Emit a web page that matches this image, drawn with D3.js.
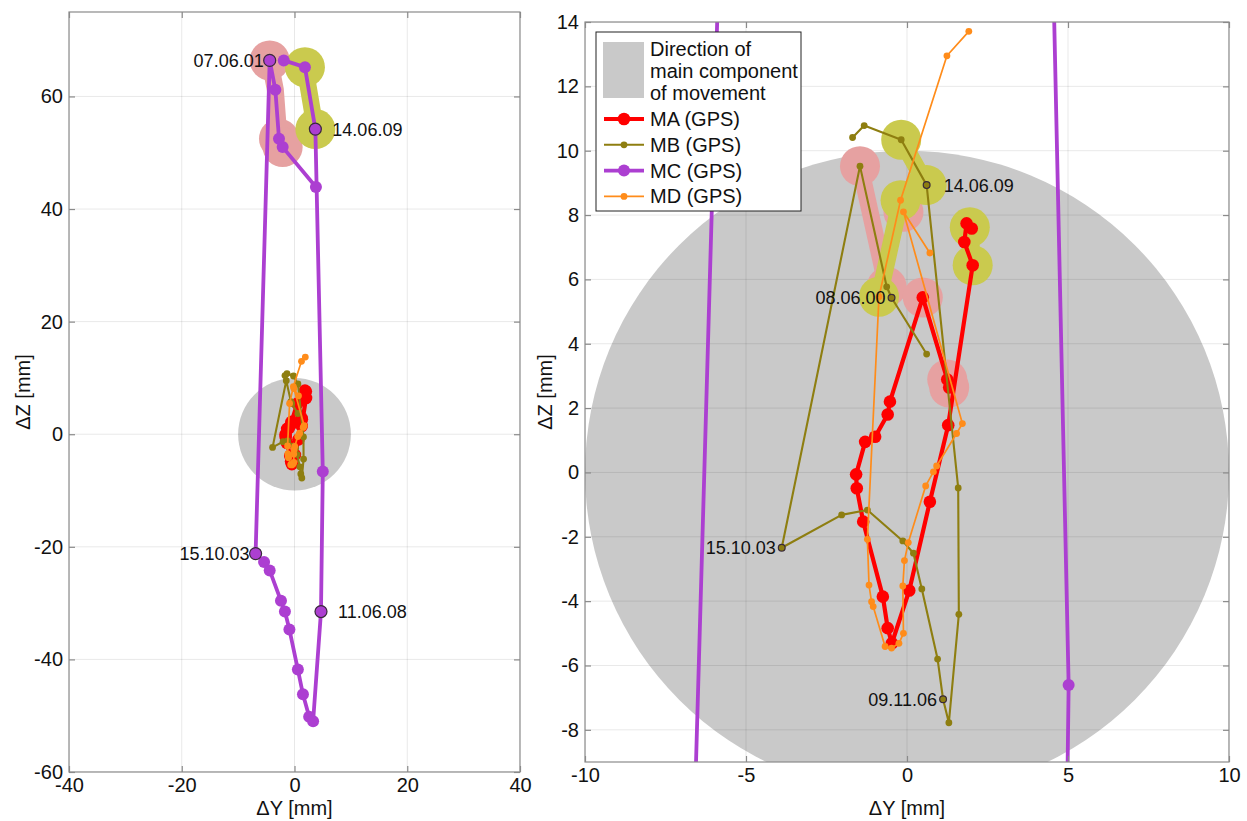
<!DOCTYPE html>
<html><head><meta charset="utf-8">
<script src="https://cdn.jsdelivr.net/npm/d3@7"></script>
<style>
body{margin:0;background:#fff;}
svg{display:block;}
text{font-family:"Liberation Sans",Arial,Helvetica,sans-serif;}
</style>
</head><body>
<svg id="c" width="1247" height="821"></svg>
<script>
// ---------------- data (ΔY, ΔZ in mm) ----------------
const MA = [[1.31,2.64],[1.25,2.89],[0.49,5.44],[-0.53,2.20],[-0.60,1.80],[-0.99,1.11],[-1.30,0.95],
  [-1.58,-0.06],[-1.56,-0.49],[-1.36,-1.53],[-0.75,-3.86],[-0.60,-4.84],[-0.47,-5.31],[0.07,-3.67],
  [0.71,-0.91],[1.28,1.47],[2.04,6.44],[1.78,7.16],[1.85,7.74],[2.01,7.58]];
const MB = [[0.61,3.68],[-0.48,5.43],[-0.63,5.77],[-1.46,9.52],[-3.89,-2.34],[-2.03,-1.32],[-1.23,-1.17],
  [-0.13,-2.13],[0.20,-2.51],[0.46,-3.62],[0.95,-5.80],[1.12,-7.05],[1.30,-7.78],[1.61,-4.41],
  [1.59,-0.48],[0.61,8.93],[-0.18,10.34],[-1.33,10.78],[-1.69,10.41]];
const MC = [[3.8,43.9],[-2.1,51.0],[-2.75,52.5],[-3.4,61.2],[-4.4,66.4],[-6.9,-21.2],[-5.4,-22.7],
  [-4.4,-24.2],[-2.4,-29.6],[-1.7,-31.5],[-0.9,-34.7],[0.6,-41.8],[1.5,-46.2],[2.6,-50.2],[3.3,-51.0],
  [4.7,-31.5],[5.02,-6.61],[3.7,54.2],[1.85,65.2],[-1.9,66.4]];
const MD = [[0.71,6.82],[-0.11,8.10],[1.72,1.52],[1.54,1.21],[0.92,0.20],[0.82,0.02],[0.58,-0.42],
  [0.04,-2.18],[-0.08,-2.74],[-0.13,-3.53],[-0.11,-5.00],[-0.25,-5.31],[-0.48,-5.46],[-0.68,-5.41],
  [-1.05,-4.17],[-1.10,-4.02],[-1.18,-3.50],[-1.23,-2.08],[-0.87,5.46],[-0.20,8.46],[1.24,12.95],[1.92,13.71]];

// main component circle: [centerY, centerZ, radius]
const mainComponent = [0, 0, 10];

// date labels: [text, ΔY, ΔZ, side]
const labelsLeft = [["07.06.01",-4.4,66.4,"end"],["14.06.09",3.7,54.2,"start"],
  ["15.10.03",-6.9,-21.2,"end"],["11.06.08",4.7,-31.5,"start"]];
const labelsRight = [["14.06.09",0.61,8.93,"start"],["08.06.00",-0.48,5.43,"end"],
  ["15.10.03",-3.89,-2.34,"end"],["09.11.06",1.12,-7.05,"end"]];

// highlighted periods
const pinkBandsLeft = [[[-4.4,66.4],[-3.4,61.2],[-2.75,52.5],[-2.1,51.0]]];
const pinkDotsLeft = [[-4.4,66.4],[-2.75,52.5],[-2.1,51.0]];
const yellowBandsLeft = [[[1.85,65.2],[3.7,54.2]]];
const yellowDotsLeft = [[1.85,65.2],[3.7,54.2]];
const pinkBandsRight = [[[-1.46,9.52],[-0.63,5.77]],[[1.25,2.89],[1.31,2.64]]];
const pinkDotsRight = [[-1.46,9.52],[-0.63,5.77],[0.49,5.44],[1.25,2.89],[1.31,2.64],[-0.11,8.10]];
const yellowBandsRight = [[[-0.18,10.34],[0.61,8.93]],[[-0.87,5.46],[-0.20,8.46]],[[1.95,7.62],[2.04,6.44]]];
const yellowDotsRight = [[-0.18,10.34],[0.61,8.93],[-0.87,5.46],[-0.20,8.46],[1.95,7.62],[2.04,6.44]];

// axes ticks
const ticksXLeft = [-40,-20,0,20,40];
const ticksYLeft = [-60,-40,-20,0,20,40,60];
const ticksXRight = [-10,-5,0,5,10];
const ticksYRight = [-8,-6,-4,-2,0,2,4,6,8,10,12,14];

const seriesNames = ["MA (GPS)","MB (GPS)","MC (GPS)","MD (GPS)"];
const legendTitle = ["Direction of","main component","of movement"];

// ---------------- styles ----------------
const COL = {MA:"#ff0000", MB:"#8e7e10", MC:"#ac3fd1", MD:"#ff8c1a"};
const styles = [
  {key:"MA", data:MA, w:4.2, r:6.3},
  {key:"MB", data:MB, w:2.1, r:3.4},
  {key:"MC", data:MC, w:3.8, r:6},
  {key:"MD", data:MD, w:1.7, r:3.4}
];
const PINK = "#e6a1a1", YELLOW = "#caca4e", GRAY = "#c9c9c9", BOX = "#8a8a8a";

const svg = d3.select("#c");
const defs = svg.append("defs");

function panel(cfg){
  const x = d3.scaleLinear().domain(cfg.xDom).range([cfg.x0, cfg.x1]);
  const y = d3.scaleLinear().domain(cfg.yDom).range([cfg.y1, cfg.y0]);
  const W = cfg.x1 - cfg.x0, H = cfg.y1 - cfg.y0;
  defs.append("clipPath").attr("id", cfg.id).append("rect")
    .attr("x", cfg.x0).attr("y", cfg.y0).attr("width", W).attr("height", H);
  const g = svg.append("g");
  const plot = g.append("g").attr("clip-path", `url(#${cfg.id})`);

  // gray main-component circle
  plot.append("ellipse")
    .attr("cx", x(mainComponent[0])).attr("cy", y(mainComponent[1]))
    .attr("rx", x(mainComponent[0]+mainComponent[2]) - x(mainComponent[0]))
    .attr("ry", y(mainComponent[1]) - y(mainComponent[1]+mainComponent[2]))
    .attr("fill", GRAY);

  // grid
  plot.selectAll(".gx").data(cfg.tx).join("line")
    .attr("x1", d=>x(d)).attr("x2", d=>x(d)).attr("y1", cfg.y0).attr("y2", cfg.y1)
    .attr("stroke", "#000").attr("stroke-opacity", 0.09).attr("stroke-width", 1);
  plot.selectAll(".gy").data(cfg.ty).join("line")
    .attr("y1", d=>y(d)).attr("y2", d=>y(d)).attr("x1", cfg.x0).attr("x2", cfg.x1)
    .attr("stroke", "#000").attr("stroke-opacity", 0.09).attr("stroke-width", 1);

  const line = d3.line().x(d=>x(d[0])).y(d=>y(d[1]));

  // highlights
  function hl(bands, dots, color){
    plot.append("g").selectAll("path").data(bands).join("path")
      .attr("d", line).attr("fill","none").attr("stroke", color)
      .attr("stroke-width", 17).attr("stroke-linecap","round").attr("stroke-linejoin","round");
    plot.append("g").selectAll("circle").data(dots).join("circle")
      .attr("cx", d=>x(d[0])).attr("cy", d=>y(d[1])).attr("r", 20).attr("fill", color);
  }
  hl(cfg.pinkB, cfg.pinkD, PINK);
  hl(cfg.yelB, cfg.yelD, YELLOW);

  // series
  styles.forEach(s=>{
    const sg = plot.append("g");
    sg.append("path").datum(s.data).attr("d", line).attr("fill","none")
      .attr("stroke", COL[s.key]).attr("stroke-width", s.w).attr("stroke-linejoin","round");
    sg.selectAll("circle").data(s.data).join("circle")
      .attr("cx", d=>x(d[0])).attr("cy", d=>y(d[1])).attr("r", s.r).attr("fill", COL[s.key]);
  });

  // labelled points
  const lg = g.append("g");
  const st = styles.find(s=>s.key===cfg.labelKey);
  lg.selectAll("circle").data(cfg.labels).join("circle")
    .attr("cx", d=>x(d[1])).attr("cy", d=>y(d[2])).attr("r", st.r)
    .attr("fill", COL[cfg.labelKey]).attr("stroke", "#3a2a3a").attr("stroke-width", 1.2);
  lg.selectAll("text").data(cfg.labels).join("text")
    .attr("x", d=>x(d[1]) + (d[3]==="end" ? -6 : 17))
    .attr("y", d=>y(d[2])).attr("dy", "0.36em")
    .attr("text-anchor", d=>d[3]).attr("font-size", 18).attr("fill","#111")
    .text(d=>d[0]);

  // box
  g.append("rect").attr("x", cfg.x0).attr("y", cfg.y0).attr("width", W).attr("height", H)
    .attr("fill","none").attr("stroke", BOX).attr("stroke-width", 1.2);

  // axes (ticks inside, on all sides)
  const fmt = d=>String(d);
  const ab = g.append("g").attr("transform", `translate(0,${cfg.y1})`)
    .call(d3.axisBottom(x).tickValues(cfg.tx).tickSize(-6).tickPadding(6).tickFormat(fmt));
  const at = g.append("g").attr("transform", `translate(0,${cfg.y0})`)
    .call(d3.axisTop(x).tickValues(cfg.tx).tickSize(-6).tickFormat(""));
  const al = g.append("g").attr("transform", `translate(${cfg.x0},0)`)
    .call(d3.axisLeft(y).tickValues(cfg.ty).tickSize(-6).tickPadding(6).tickFormat(fmt));
  const ar = g.append("g").attr("transform", `translate(${cfg.x1},0)`)
    .call(d3.axisRight(y).tickValues(cfg.ty).tickSize(-6).tickFormat(""));
  [ab,at,al,ar].forEach(a=>{
    a.select(".domain").remove();
    a.selectAll(".tick line").attr("stroke", BOX).attr("stroke-width", 1.2);
    a.selectAll(".tick text").attr("font-size", 20).attr("fill", "#111")
      .attr("font-family", '"Liberation Sans",Arial,sans-serif');
  });

  // axis titles
  g.append("text").attr("x", (cfg.x0+cfg.x1)/2).attr("y", 815).attr("text-anchor","middle")
    .attr("font-size", 20).attr("fill","#111").text("ΔY [mm]");
  g.append("text").attr("transform", `translate(${cfg.zx},${(cfg.y0+cfg.y1)/2}) rotate(-90)`)
    .attr("text-anchor","middle").attr("font-size", 20).attr("fill","#111").text("ΔZ [mm]");

  return {x, y, g};
}

panel({id:"clipL", x0:69, x1:520, y0:12, y1:772, xDom:[-40,40], yDom:[-60,75],
  tx:ticksXLeft, ty:ticksYLeft, pinkB:pinkBandsLeft, pinkD:pinkDotsLeft,
  yelB:yellowBandsLeft, yelD:yellowDotsLeft, labels:labelsLeft, labelKey:"MC", zx:30});
panel({id:"clipR", x0:585, x1:1229, y0:22, y1:762, xDom:[-10,10], yDom:[-9,14],
  tx:ticksXRight, ty:ticksYRight, pinkB:pinkBandsRight, pinkD:pinkDotsRight,
  yelB:yellowBandsRight, yelD:yellowDotsRight, labels:labelsRight, labelKey:"MB", zx:552});

// ---------------- legend ----------------
const lgd = svg.append("g");
lgd.append("rect").attr("x", 596).attr("y", 32).attr("width", 205).attr("height", 179)
  .attr("fill", "#fff").attr("stroke", "#222").attr("stroke-width", 1);
lgd.append("rect").attr("x", 603).attr("y", 42).attr("width", 41).attr("height", 56).attr("fill", GRAY);
lgd.selectAll("text.t").data(legendTitle).join("text").attr("class","t")
  .attr("x", 650).attr("y", (d,i)=>56 + i*22).attr("font-size", 20).attr("fill","#111").text(d=>d);
const ent = lgd.selectAll("g.e").data(styles).join("g").attr("class","e")
  .attr("transform", (d,i)=>`translate(0,${119 + i*25.8})`);
ent.append("line").attr("x1", 604).attr("x2", 644).attr("y1", 0).attr("y2", 0)
  .attr("stroke", d=>COL[d.key]).attr("stroke-width", d=>d.w);
ent.append("circle").attr("cx", 624).attr("cy", 0).attr("r", d=>d.r).attr("fill", d=>COL[d.key]);
ent.append("text").attr("x", 650).attr("y", 7).attr("font-size", 20).attr("fill","#111")
  .text((d,i)=>seriesNames[i]);
</script>
</body></html>
